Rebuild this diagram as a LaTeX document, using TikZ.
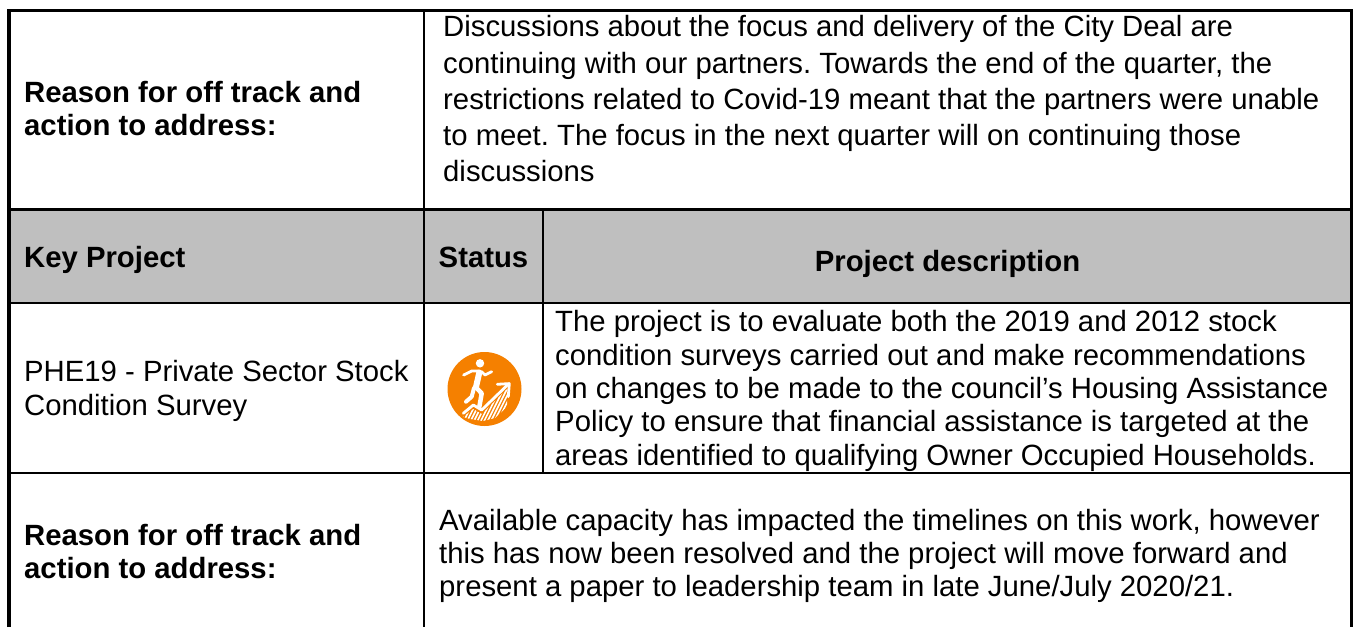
\documentclass[tikz,border=0pt]{standalone}
\usepackage{fontspec}
\setmainfont{Liberation Sans}
\frenchspacing
\tikzset{
 bodytxt/.style={anchor=west,align=left,inner sep=0pt,font=\fontsize{29.3}{#1}\selectfont},
 boldtxt/.style={anchor=west,align=left,inner sep=0pt,font=\fontsize{29.3}{#1}\selectfont\bfseries},
 left rule/.style={line width=4pt,black},
 outer rule/.style={line width=2.8pt,black},
 thin rule/.style={line width=2pt,black},
 icon line/.style={white,line cap=round,line join=round}
}
\definecolor{hdr}{HTML}{BFBFBF}
\definecolor{ico}{HTML}{F58000}
\begin{document}
\begin{tikzpicture}[x=1pt,y=-1pt]
\useasboundingbox (0,0) rectangle (1356,627);
\fill[white] (0,0) rectangle (1356,627);
\fill[hdr] (9,209) rectangle (1351,303);
% rules
\draw[thin rule] (9,302.8) -- (1351,302.8);
\draw[thin rule] (9,472.8) -- (1351,472.8);
\draw[thin rule] (424.3,11) -- (424.3,627);
\draw[thin rule] (543.3,209) -- (543.3,473);
\draw[outer rule] (9,209.5) -- (1351,209.5);
\draw[outer rule] (7.3,10.7) -- (1351.3,10.7) -- (1351.3,627);
\draw[left rule] (9.3,627) -- (9.3,9.3);
% text
\node[boldtxt=33.5] (r1) at (24,108.7) {Reason for off track and\\action to address:};
\node[bodytxt=36.2] (d1) at (443,98.9) {Discussions about the focus and delivery of the City Deal are\\continuing with our partners. Towards the end of the quarter, the\\restrictions related to Covid-19 meant that the partners were unable\\to meet. The focus in the next quarter will on continuing those\\discussions};
\node[boldtxt=33.5] (h1) at (24,260) {Key Project};
\node[boldtxt=33.5,anchor=center] (h2) at (483.5,257) {Status};
\node[boldtxt=33.5,anchor=center] (h3) at (947.5,264) {Project description};
\node[bodytxt=33.3] (p1) at (24,391) {PHE19 - Private Sector Stock\\Condition Survey};
\node[bodytxt=33.3] (d2) at (555,390.9) {The project is to evaluate both the 2019 and 2012 stock\\condition surveys carried out and make recommendations\\on changes to be made to the council’s Housing Assistance\\Policy to ensure that financial assistance is targeted at the\\areas identified to qualifying Owner Occupied Households.};
\node[boldtxt=33.5] (r2) at (24,551.5) {Reason for off track and\\action to address:};
\node[bodytxt=33.4] (d3) at (439,556) {Available capacity has impacted the timelines on this work, however\\this has now been resolved and the project will move forward and\\present a paper to leadership team in late June/July 2020/21.};
% icon
\fill[ico] (484.5,389) circle (37);
\fill[white] (480,363.3) circle (4.2);
\draw[icon line,line width=6pt] (479.3,372.5) -- (476,387);
\draw[icon line,line width=4.5pt] (475.5,387) -- (481.7,393.3) -- (479.3,407);
\draw[icon line,line width=2.8pt] (481.7,371.7) -- (485,375) -- (491.7,371.7);
\draw[icon line,line width=2.8pt] (479,371) -- (471.7,371) -- (463.6,375);
\draw[icon line,line width=4pt] (474,388) -- (471.7,396.7) -- (466,401.7);
\draw[icon line,line width=2.8pt] (463.3,413.3) -- (473.3,405) -- (481.7,410) -- (507.5,385);
\draw[icon line,line width=2.8pt] (497.3,384.3) -- (509.3,383.6) -- (508.3,396.7);
\begin{scope}
\clip (463,417) -- (473.3,409) -- (481.7,414) -- (507,389) -- (507,407) -- (495,418) -- (483,421) -- (470,419) -- cycle;
\foreach \k in {0,3.4,...,68}
  \draw[white,line width=1.6pt] (455+\k,425) -- (475+\k,385);
\end{scope}
\end{tikzpicture}
\end{document}
